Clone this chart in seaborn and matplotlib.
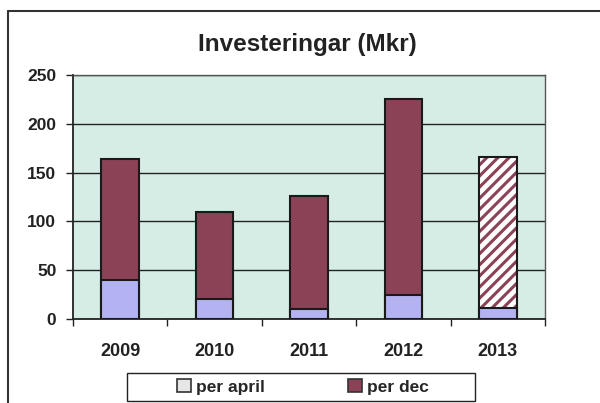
"""Investeringar (Mkr): stapeldiagram per april / per dec."""

import matplotlib
matplotlib.use('Agg')
import matplotlib.pyplot as plt
from matplotlib.patches import Patch, Rectangle
from matplotlib.lines import Line2D
import seaborn as sns
import pandas as pd

ar = ['2009', '2010', '2011', '2012', '2013']
per_april = [40, 20, 10, 25, 11]
per_dec = [164, 110, 126, 225, 166]
y_ticks = [0, 50, 100, 150, 200, 250]

FARG_DEC = '#8b4257'
FARG_APRIL = '#b3b3f2'
FARG_BAKGRUND = '#d6ede5'

sns.set_theme(style='white')
plt.rcParams['font.family'] = ['Liberation Sans', 'DejaVu Sans']
plt.rcParams['hatch.linewidth'] = 2.2

df = pd.DataFrame({'År': ar, 'per april': per_april, 'per dec': per_dec})

fig = plt.figure(figsize=(6.0, 4.03), dpi=100)
ax = fig.add_axes([0.1217, 0.2084, 0.7866, 0.6055])
ax.set_facecolor(FARG_BAKGRUND)

# per dec bakom, per april framför
sns.barplot(data=df, x='År', y='per dec', color=FARG_DEC, saturation=1,
            width=0.4, edgecolor='#1a1a1a', linewidth=1.5, ax=ax, zorder=2)
n_dec = len(ax.patches)
sns.barplot(data=df, x='År', y='per april', color=FARG_APRIL, saturation=1,
            width=0.4, edgecolor='#1a1a1a', linewidth=1.5, ax=ax, zorder=3)

# 2013 är en prognos: streckad stapel
sista = ax.patches[n_dec - 1]
sista.set_facecolor('white')
sista.set_hatch('///')
sista.set_edgecolor(FARG_DEC)
sista.set_linewidth(0)
ax.add_patch(Rectangle(sista.get_xy(), sista.get_width(), sista.get_height(),
                       fill=False, edgecolor='#1a1a1a', linewidth=1.5, zorder=2.5))

ax.set_ylim(0, 250)
ax.set_xlim(-0.5, len(ar) - 0.5)
ax.set_yticks(y_ticks)
ax.yaxis.grid(True, color='#222222', linewidth=1.0)
ax.set_axisbelow(True)

ax.set_xticks(range(len(ar)))
ax.set_xticklabels(ar)
ax.tick_params(axis='x', length=0, pad=17)
ax.set_xticks([i - 0.5 for i in range(len(ar) + 1)], minor=True)
ax.tick_params(axis='x', which='minor', length=5, width=1, color='#222222',
               direction='out', bottom=True)
ax.tick_params(axis='y', length=5, width=1, color='#222222', direction='out',
               left=True, pad=7)
for lbl in ax.get_xticklabels():
    lbl.set_fontsize(13)
    lbl.set_fontweight('bold')
    lbl.set_color('#222222')
for lbl in ax.get_yticklabels():
    lbl.set_fontsize(12.5)
    lbl.set_fontweight('bold')
    lbl.set_color('#222222')

ax.set_xlabel('')
ax.set_ylabel('')
for s in ['left', 'bottom']:
    ax.spines[s].set_color('#222222')
    ax.spines[s].set_linewidth(1.3)
for s in ['top', 'right']:
    ax.spines[s].set_color('#555555')
    ax.spines[s].set_linewidth(1.0)

fig.text(0.513, 0.89, 'Investeringar (Mkr)', ha='center', va='center',
         fontsize=17.5, fontweight='bold', color='#222222')

handles = [Patch(facecolor='#e6e6e6', edgecolor='#333333', linewidth=1.2),
           Patch(facecolor=FARG_DEC, edgecolor='#333333', linewidth=1.2)]
leg = fig.legend(handles, ['per april', 'per dec'], loc='center',
                 bbox_to_anchor=(0.505, 1 - 387 / 403), ncol=2, frameon=False,
                 handlelength=0.8, handleheight=0.8, handletextpad=0.3,
                 columnspacing=4.8, prop={'size': 12.5, 'weight': 'bold'},
                 borderaxespad=0)

# legendram
fig.add_artist(Rectangle((127 / 600, 1 - 401 / 403), 348 / 600, 28 / 403,
                         transform=fig.transFigure, fill=False,
                         edgecolor='#222222', linewidth=1.0))

# ram runt figuren (vänster och överkant)
fig.add_artist(Line2D([8 / 600, 8 / 600], [0, 1 - 11 / 403],
                      transform=fig.transFigure, color='#333333', linewidth=1.5))
fig.add_artist(Line2D([8 / 600, 1], [1 - 11 / 403, 1 - 11 / 403],
                      transform=fig.transFigure, color='#333333', linewidth=1.5))

plt.savefig('out.png', dpi=100)
plt.close()
